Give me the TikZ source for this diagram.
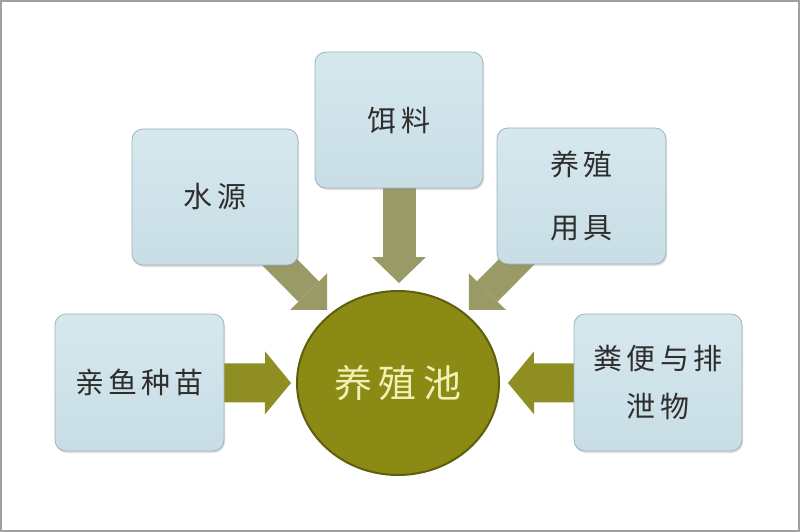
\documentclass[tikz,border=0pt]{standalone}
\usepackage{fontspec}
\newfontfamily\cjk[LetterSpace=14]{Noto Sans CJK SC}
\newfontfamily\cjkb[LetterSpace=16]{Noto Sans CJK SC}
\usetikzlibrary{arrows.meta,shapes.geometric,shadows}
\definecolor{boxtop}{HTML}{D6E8EE}
\definecolor{boxbot}{HTML}{C8DDE5}
\definecolor{boxline}{HTML}{9DB2BA}
\definecolor{txt}{HTML}{2E2E2E}
\definecolor{arrowA}{HTML}{8E8E22}
\definecolor{arrowB}{HTML}{9A9A66}
\definecolor{pondfill}{HTML}{8A8A14}
\definecolor{pondline}{HTML}{5E5E0C}
\definecolor{pondtxt}{HTML}{F2F0B4}
\definecolor{framegray}{HTML}{A0A0A0}
\pgfdeclarelayer{bg}
\pgfsetlayers{bg,main}
\tikzset{
  infobox/.style={rounded corners=11pt, draw=boxline, line width=0.8pt,
    top color=boxtop, bottom color=boxbot,
    minimum width=168pt, minimum height=136pt, inner sep=0pt,
    text=txt, font=\cjk\fontsize{29}{34}\selectfont, align=center,
    drop shadow={opacity=0.25, shadow xshift=1pt, shadow yshift=-2pt}},
  pondnode/.style={ellipse, minimum width=202pt, minimum height=184pt, inner sep=0pt,
    fill=pondfill, draw=pondline, line width=2pt,
    text=pondtxt, font=\cjkb\fontsize{38}{44}\selectfont},
  sidearrow/.style={line width=39pt, draw=arrowA,
    -{Triangle[width=63pt,length=26pt,line width=0pt]}},
  toparrow/.style={line width=33pt, draw=arrowB,
    -{Triangle[width=54pt,length=26pt,line width=0pt]}},
  diagarrow/.style={line width=29pt, draw=arrowB,
    -{Triangle[width=52pt,length=26pt,line width=0pt]}},
}
\begin{document}
\begin{tikzpicture}[x=1pt,y=-1pt]
\useasboundingbox (0,0) rectangle (800,532);
\draw[framegray, line width=2pt] (1,1) rectangle (799,531);

\node[infobox] (feed) at (399,120) {饵料};
\node[infobox, minimum width=166pt] (water) at (215,197) {水源};
\node[infobox, minimum width=169pt, font=\cjk\fontsize{29}{63}\selectfont] (tools) at (581.5,196) {养殖\\用具};
\node[infobox, minimum width=169pt, minimum height=137pt] (fry) at (139.5,382.5) {亲鱼种苗};
\node[infobox, minimum height=137pt, font=\cjk\fontsize{29}{48}\selectfont] (waste) at (658,382.5) {粪便与排\\泄物};
\node[pondnode] (pond) at (398,383) {养殖池};

\coordinate (tipfeed) at (399,283);
\coordinate (tipwater) at (327,310);
\coordinate (tiptools) at (469,310);
\coordinate (tipfry) at (291,383);
\coordinate (tipwaste) at (508,383);

\begin{pgfonlayer}{bg}
\draw[toparrow] (feed.center) -- (tipfeed);
\draw[diagarrow] (water.center) -- (tipwater);
\draw[diagarrow] (tools.center) -- (tiptools);
\draw[sidearrow] (fry.center) -- (tipfry);
\draw[sidearrow] (waste.center) -- (tipwaste);
\end{pgfonlayer}
\end{tikzpicture}
\end{document}
